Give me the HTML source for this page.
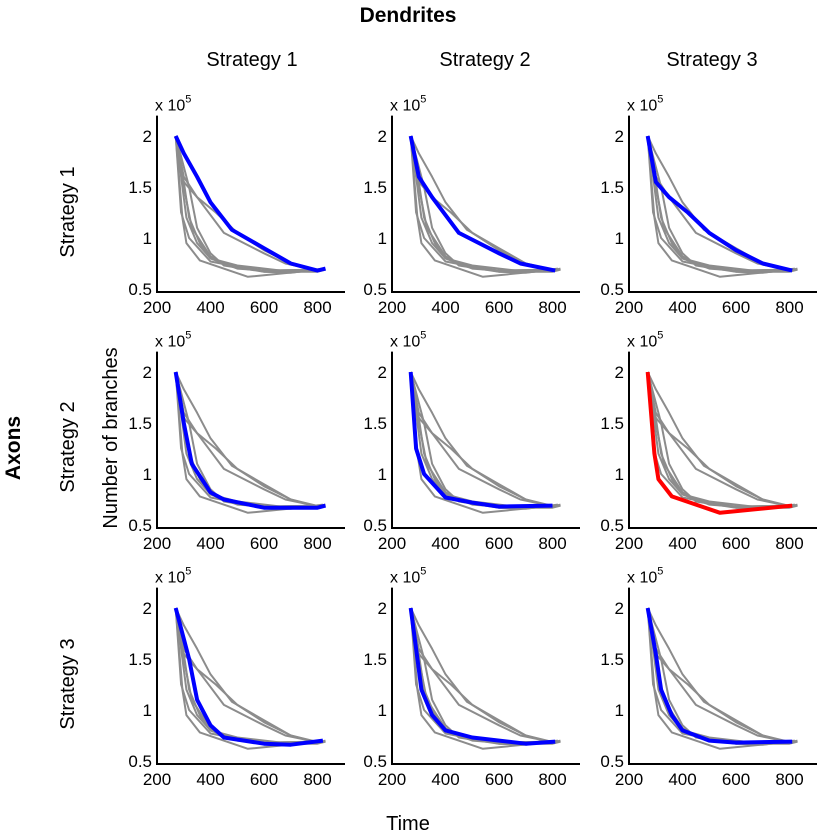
<!DOCTYPE html>
<html><head><meta charset="utf-8"><style>
body{margin:0;background:#fff;}
svg{display:block;font-family:"Liberation Sans",Arial,sans-serif;}
</style></head><body>
<svg id="fig" width="818" height="839">
<text x="408" y="22" font-size="21" font-weight="bold" text-anchor="middle">Dendrites</text>
<text x="252" y="66" font-size="20" text-anchor="middle">Strategy 1</text>
<text x="485" y="66" font-size="20" text-anchor="middle">Strategy 2</text>
<text x="712" y="66" font-size="20" text-anchor="middle">Strategy 3</text>
<text transform="translate(74,212) rotate(-90)" font-size="20" text-anchor="middle">Strategy 1</text>
<text transform="translate(74,447) rotate(-90)" font-size="20" text-anchor="middle">Strategy 2</text>
<text transform="translate(74,684) rotate(-90)" font-size="20" text-anchor="middle">Strategy 3</text>
<text transform="translate(20,448) rotate(-90)" font-size="21" font-weight="bold" text-anchor="middle">Axons</text>
<text transform="translate(117,438) rotate(-90)" font-size="20" text-anchor="middle">Number of branches</text>
<text x="408" y="830" font-size="20" text-anchor="middle">Time</text>
</svg>
<script>
const xTicks=[200,400,600,800];
const yTicks=[0.5,1,1.5,2];
const yTickLabels=["0.5","1","1.5","2"];
const c0t=[270,300,350,400,480,600,700,800,830];
const c0v=[2.0,1.83,1.6,1.35,1.08,0.9,0.75,0.68,0.7];
const c1t=[270,300,350,450,600,680,810];
const c1v=[2.0,1.6,1.4,1.05,0.85,0.75,0.68];
const c2t=[270,300,350,420,500,600,700,810];
const c2v=[2.0,1.55,1.4,1.25,1.05,0.88,0.75,0.68];
const c3t=[270,300,330,400,450,600,800,830];
const c3v=[2.0,1.5,1.1,0.82,0.75,0.67,0.67,0.69];
const c4t=[270,290,320,400,500,600,800];
const c4v=[2.0,1.25,1.0,0.77,0.72,0.68,0.69];
const c5t=[270,295,310,360,540,810];
const c5v=[2.0,1.2,0.95,0.78,0.62,0.69];
const c6t=[270,320,350,400,450,600,700,820];
const c6v=[2.0,1.5,1.1,0.85,0.73,0.67,0.66,0.7];
const c7t=[270,290,310,350,400,500,700,810];
const c7v=[2.0,1.6,1.2,0.95,0.8,0.73,0.67,0.69];
const c8t=[270,300,320,360,400,500,600,810];
const c8v=[2.0,1.55,1.2,0.95,0.8,0.7,0.68,0.69];
const curvesT=[c0t,c1t,c2t,c3t,c4t,c5t,c6t,c7t,c8t];
const curvesV=[c0v,c1v,c2v,c3v,c4v,c5v,c6v,c7v,c8v];
const NS="http://www.w3.org/2000/svg";
const svg=document.getElementById('fig');
const colX=[157,392,629], rowY=[0,236,472];
function mk(tag,attrs,parent){const e=document.createElementNS(NS,tag);for(const k in attrs)e.setAttribute(k,attrs[k]);(parent||svg).appendChild(e);return e;}
for(let r=0;r<3;r++)for(let c=0;c<3;c++){
  const x0=colX[c], yb=292+rowY[r];
  const sx=t=>x0+(t-200)*53.5/200;
  const sy=v=>yb-3-(v-0.5)*102;
  const g=mk('g',{});
  
  
  const ax=mk('path',{d:`M${x0},${sy(2.2)}V${yb}H${x0+188}`,stroke:'#000','stroke-width':2,fill:'none'},g);
  
  
  xTicks.forEach(t=>{const e=mk('text',{x:sx(t),y:yb+21,'font-size':17,'text-anchor':'middle'},g);e.textContent=t;
    
    });
  yTicks.forEach((v,i)=>{const e=mk('text',{x:x0-5,y:sy(v)+6,'font-size':17,'text-anchor':'end'},g);e.textContent=yTickLabels[i];
    
    });
  const ex=mk('text',{x:x0-2,y:sy(2.2)-5,'font-size':16},g);
  ex.innerHTML='x 10<tspan dy="-8" font-size="11">5</tspan>';
  
  
  const hi=r*3+c;
  const order=[...Array(9).keys()].filter(i=>i!==hi).concat([hi]);
  order.forEach(i=>{
    const d=curvesT[i].map((t,j)=>(j?'L':'M')+sx(t).toFixed(1)+','+sy(curvesV[i][j]).toFixed(1)).join('');
    const isH=i===hi;
    const p=mk('path',{d:d,fill:'none',stroke:isH?(hi===5?'#ff0000':'#0000ff'):'#8c8c8c','stroke-width':isH?4:2,'stroke-linejoin':'round'},g);
    
    
  });
}
</script>
</body></html>
